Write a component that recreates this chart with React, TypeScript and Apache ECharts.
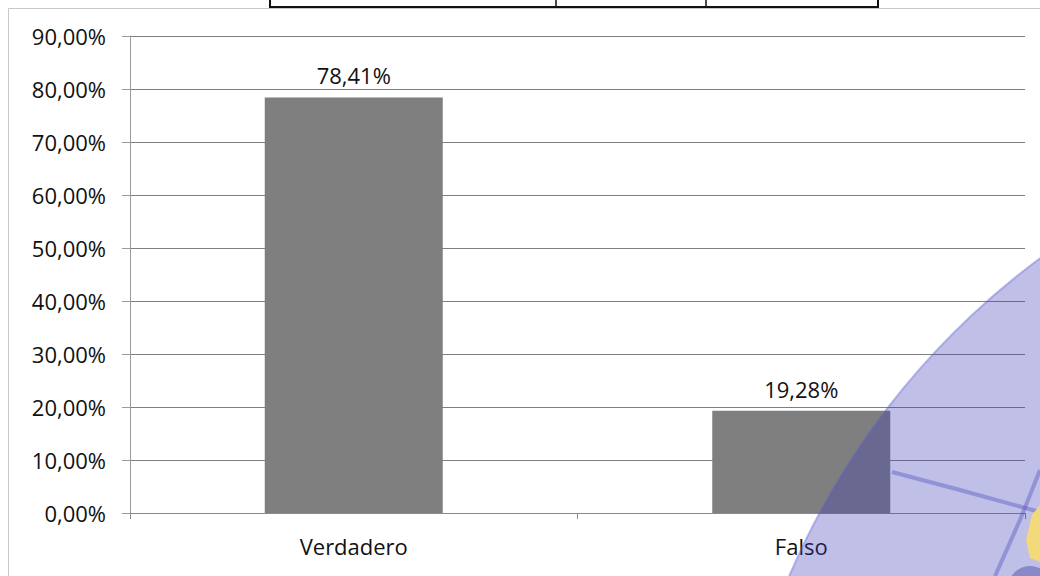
import React, { useEffect, useRef } from "react";
import * as echarts from "echarts";

const categories = ["Verdadero", "Falso"];
const values = [78.41, 19.28];
const yMin = 0;
const yMax = 90;
const yStep = 10;

const fmt = (v: number) => v.toFixed(2).replace(".", ",") + "%";

export default function App() {
  const ref = useRef<HTMLDivElement>(null);
  useEffect(() => {
    if (!ref.current) return;
    const chart = echarts.init(ref.current, null, { renderer: "svg" });
    const font = "'Open Sans', 'Noto Sans', sans-serif";
    chart.setOption({
      animation: false,
      backgroundColor: "#ffffff",
      grid: { left: 130, right: 15, top: 36, bottom: 63 },
      xAxis: {
        type: "category",
        data: categories,
        axisLine: { lineStyle: { color: "#8a8a8a", width: 1 } },
        axisTick: { show: true, length: 6, alignWithLabel: false, lineStyle: { color: "#8a8a8a" } },
        axisLabel: { color: "#111111", fontSize: 22, fontFamily: font, margin: 22 },
      },
      yAxis: {
        type: "value",
        min: yMin,
        max: yMax,
        interval: yStep,
        axisLine: { show: true, lineStyle: { color: "#9a9a9a", width: 1 } },
        axisTick: { show: true, length: 8, lineStyle: { color: "#9a9a9a" } },
        splitLine: { show: true, lineStyle: { color: "#7f7f7f", width: 1 } },
        axisLabel: {
          color: "#111111",
          fontSize: 22,
          fontFamily: font,
          margin: 24,
          formatter: (v: number) => fmt(v),
        },
      },
      series: [
        {
          type: "bar",
          data: values,
          barWidth: 178,
          itemStyle: { color: "#7f7f7f" },
          label: {
            show: true,
            position: "top",
            distance: 11,
            color: "#111111",
            fontSize: 22,
            fontFamily: font,
            formatter: (p: any) => fmt(p.value),
          },
          z: 2,
        },
      ],
      graphic: [
        {
          type: "rect",
          shape: { x: 8.5, y: 8.5, width: 1100, height: 700 },
          style: { fill: "none", stroke: "#c8c8c8", lineWidth: 1 },
          silent: true,
          z: 1,
        },
        {
          type: "polyline",
          shape: { points: [[270, 0], [270, 7], [878, 7], [878, 0]] },
          style: { fill: "none", stroke: "#111", lineWidth: 2 },
          silent: true,
        },
        { type: "line", shape: { x1: 556, y1: 0, x2: 556, y2: 7 }, style: { stroke: "#111", lineWidth: 1.5 }, silent: true },
        { type: "line", shape: { x1: 706, y1: 0, x2: 706, y2: 7 }, style: { stroke: "#111", lineWidth: 1.5 }, silent: true },
        {
          type: "circle",
          shape: { cx: 1501, cy: 880, r: 774 },
          style: { fill: "rgba(55,55,185,0.32)", stroke: "rgba(100,100,210,0.4)", lineWidth: 2 },
          silent: true,
          z: 10,
        },
        {
          type: "polyline",
          shape: { points: [[892, 472], [960, 490], [1040, 512]] },
          style: { fill: "none", stroke: "rgba(80,80,190,0.4)", lineWidth: 4 },
          silent: true,
          z: 11,
        },
        {
          type: "polyline",
          shape: { points: [[1040, 470], [1020, 520], [995, 576]] },
          style: { fill: "none", stroke: "rgba(80,80,190,0.4)", lineWidth: 4 },
          silent: true,
          z: 11,
        },
        {
          type: "polygon",
          shape: { points: [[1040, 505], [1032, 515], [1026, 540], [1030, 558], [1040, 562]] },
          style: { fill: "#f2d97a" },
          silent: true,
          z: 12,
        },
        {
          type: "circle",
          shape: { cx: 1030, cy: 588, r: 22 },
          style: { fill: "rgba(70,70,160,0.45)" },
          silent: true,
          z: 12,
        },
      ],
    });
    return () => chart.dispose();
  }, []);
  return <div ref={ref} style={{ width: 1040, height: 576, position: "absolute", left: 0, top: 0 }} />;
}
